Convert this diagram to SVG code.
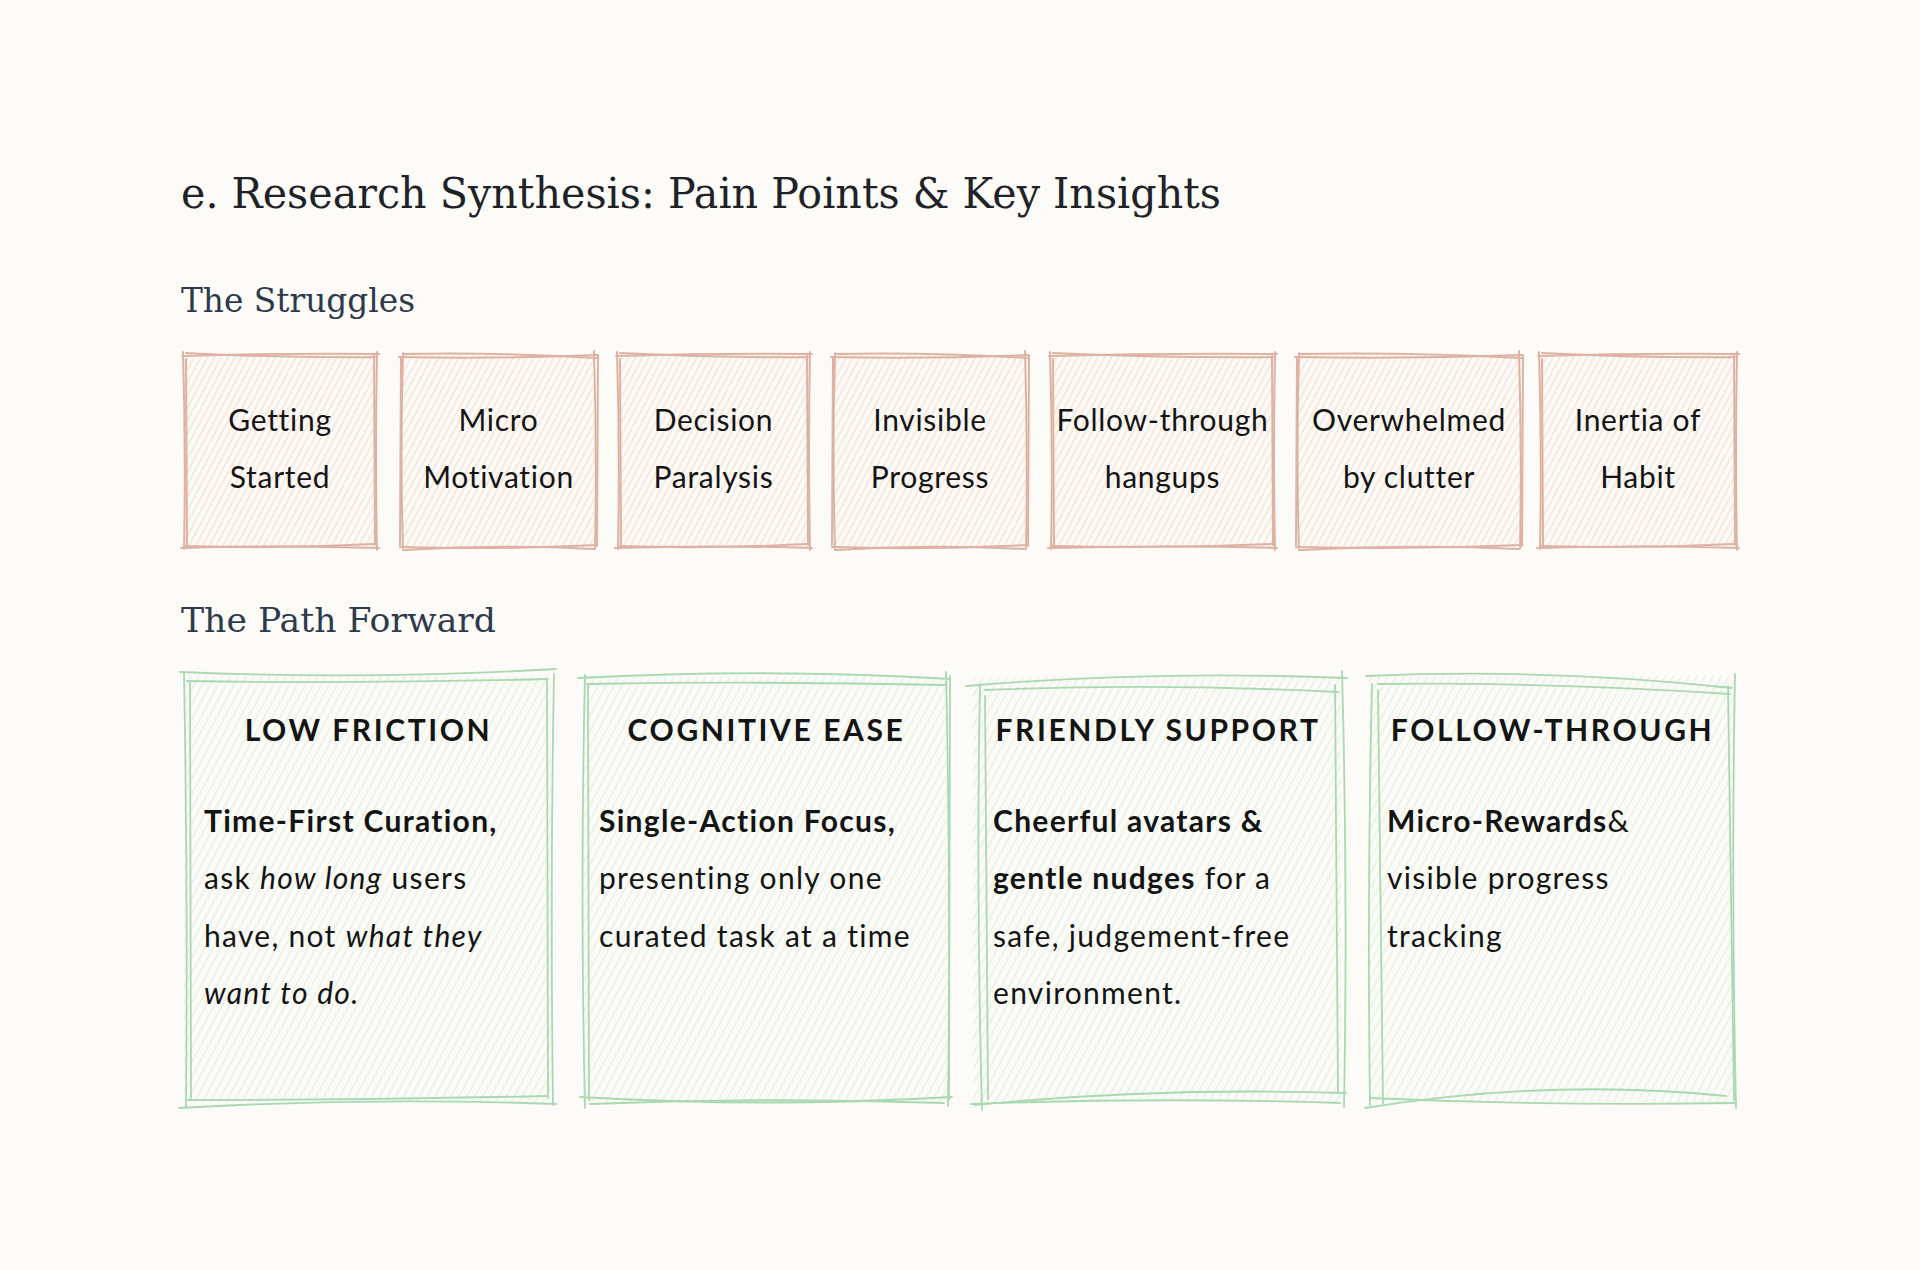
<svg xmlns="http://www.w3.org/2000/svg" width="1920" height="1270" viewBox="0 0 1920 1270">
<defs>
<pattern id="hPink" width="6" height="6" patternUnits="userSpaceOnUse" patternTransform="rotate(28)">
<line x1="3" y1="0" x2="3" y2="6" stroke="#efd6cc" stroke-width="1"/>
</pattern>
<pattern id="hGreen" width="7" height="7" patternUnits="userSpaceOnUse" patternTransform="rotate(28)">
<line x1="3" y1="0" x2="3" y2="7" stroke="#d9ecd9" stroke-width="1"/>
</pattern>
<style>
.bg{fill:#fcfbf7}
.title{font-family:"DejaVu Serif","Liberation Serif",serif;font-size:42px;fill:#1f2328}
.sub{font-family:"DejaVu Serif","Liberation Serif",serif;font-size:33px;fill:#2c3a4b}
.lbl{font-family:Lato,"Noto Sans",sans-serif;font-size:30px;fill:#141414;text-anchor:middle;letter-spacing:0.7px}
.hd{font-family:Lato,"Noto Sans",sans-serif;font-size:30px;font-weight:700;fill:#141414;text-anchor:middle;letter-spacing:2.6px}
.body{font-family:Lato,"Noto Sans",sans-serif;font-size:30px;fill:#141414;letter-spacing:1.3px}
.b{font-weight:700}
.i{font-style:italic}
.pinkFill{fill:url(#hPink)}
.greenFill{fill:url(#hGreen)}
.pinkLine{fill:none;stroke:#deb2a2;stroke-width:2;stroke-linecap:round}
.greenLine{fill:none;stroke:#a9d8b1;stroke-width:1.8;stroke-linecap:round}
</style>
</defs>
<rect class="bg" x="0" y="0" width="1920" height="1270"/>

<text class="title" x="181" y="208" textLength="1040" lengthAdjust="spacingAndGlyphs">e. Research Synthesis: Pain Points &amp; Key Insights</text>
<text class="sub" x="181" y="312" textLength="234" lengthAdjust="spacingAndGlyphs">The Struggles</text>
<text class="sub" x="181" y="632" textLength="315" lengthAdjust="spacingAndGlyphs">The Path Forward</text>

<g id="struggle-getting-started">
<rect class="pinkFill" x="184" y="355" width="192" height="192"/>
<path class="pinkLine" d="M182,356 Q280,353 379,354 M377,352 Q375,451 377,550 M379,548 Q280,545 181,548 M184,549 Q186,451 183,352"/>
<path class="pinkLine" d="M186,353 Q280,358 375,357 M374,356 L375,545 M373,544 Q280,549 185,546 M187,546 L186,359"/>
<text class="lbl" x="280" y="431">Getting</text>
<text class="lbl" x="280" y="488">Started</text>
</g>
<g id="struggle-micro-motivation">
<rect class="pinkFill" x="402" y="355" width="193" height="192"/>
<path class="pinkLine" d="M399,357 Q498,359 597,355 M594,351 Q597,451 595,549 M597,545 Q498,550 400,547 M403,550 Q400,451 403,353"/>
<path class="pinkLine" d="M403,354 Q498,352 596,358 M598,355 L597,546 M594,549 Q498,544 404,550 M400,545 L401,358"/>
<text class="lbl" x="498.5" y="431">Micro</text>
<text class="lbl" x="498.5" y="488">Motivation</text>
</g>
<g id="struggle-decision-paralysis">
<rect class="pinkFill" x="618" y="355" width="191" height="192"/>
<path class="pinkLine" d="M616,356 Q714,353 812,354 M810,352 Q808,451 810,550 M812,548 Q714,545 615,548 M618,549 Q620,451 617,352"/>
<path class="pinkLine" d="M620,353 Q714,358 808,357 M807,356 L808,545 M806,544 Q714,549 619,546 M621,546 L620,359"/>
<text class="lbl" x="713.5" y="431">Decision</text>
<text class="lbl" x="713.5" y="488">Paralysis</text>
</g>
<g id="struggle-invisible-progress">
<rect class="pinkFill" x="834" y="355" width="192" height="192"/>
<path class="pinkLine" d="M831,357 Q930,359 1028,355 M1025,351 Q1028,451 1026,549 M1028,545 Q930,550 832,547 M835,550 Q832,451 835,353"/>
<path class="pinkLine" d="M835,354 Q930,352 1027,358 M1029,355 L1028,546 M1025,549 Q930,544 836,550 M832,545 L833,358"/>
<text class="lbl" x="930" y="431">Invisible</text>
<text class="lbl" x="930" y="488">Progress</text>
</g>
<g id="struggle-follow-through">
<rect class="pinkFill" x="1051" y="355" width="223" height="192"/>
<path class="pinkLine" d="M1049,356 Q1162,353 1277,354 M1275,352 Q1273,451 1275,550 M1277,548 Q1162,545 1048,548 M1051,549 Q1053,451 1050,352"/>
<path class="pinkLine" d="M1053,353 Q1162,358 1273,357 M1272,356 L1273,545 M1271,544 Q1162,549 1052,546 M1054,546 L1053,359"/>
<text class="lbl" x="1162.5" y="431">Follow-through</text>
<text class="lbl" x="1162.5" y="488">hangups</text>
</g>
<g id="struggle-overwhelmed">
<rect class="pinkFill" x="1298" y="355" width="222" height="192"/>
<path class="pinkLine" d="M1295,357 Q1409,359 1522,355 M1519,351 Q1522,451 1520,549 M1522,545 Q1409,550 1296,547 M1299,550 Q1296,451 1299,353"/>
<path class="pinkLine" d="M1299,354 Q1409,352 1521,358 M1523,355 L1522,546 M1519,549 Q1409,544 1300,550 M1296,545 L1297,358"/>
<text class="lbl" x="1409" y="431">Overwhelmed</text>
<text class="lbl" x="1409" y="488">by clutter</text>
</g>
<g id="struggle-inertia">
<rect class="pinkFill" x="1540" y="355" width="196" height="192"/>
<path class="pinkLine" d="M1538,356 Q1638,353 1739,354 M1737,352 Q1735,451 1737,550 M1739,548 Q1638,545 1537,548 M1540,549 Q1542,451 1539,352"/>
<path class="pinkLine" d="M1542,353 Q1638,358 1735,357 M1734,356 L1735,545 M1733,544 Q1638,549 1541,546 M1543,546 L1542,359"/>
<text class="lbl" x="1638" y="431">Inertia of</text>
<text class="lbl" x="1638" y="488">Habit</text>
</g>

<g id="insight-low-friction">
<rect class="greenFill" x="184" y="676" width="367" height="426"/>
<path class="greenLine" d="M180,672 Q367,680 556,669 M554,674 Q550,889 553,1105 M556,1104 Q367,1097 179,1108 M186,1106 Q188,889 184,673"/>
<path class="greenLine" d="M187,681 Q367,684 548,679 M547,680 L548,1098 M546,1096 Q367,1100 188,1100 M191,1098 L190,682"/>
<text class="hd" x="368.5" y="741">LOW FRICTION</text>
<text class="body" x="204" y="832"><tspan class="b">Time-First Curation,</tspan></text>
<text class="body" x="204" y="889">ask <tspan class="i">how long</tspan> users</text>
<text class="body" x="204" y="947">have, not <tspan class="i">what they</tspan></text>
<text class="body" x="204" y="1004"><tspan class="i">want to do.</tspan></text>
</g>
<g id="insight-cognitive-ease">
<rect class="greenFill" x="583" y="676" width="365" height="426"/>
<path class="greenLine" d="M578,678 Q765,668 950,679 M946,672 Q951,889 948,1106 M952,1097 Q765,1108 580,1097 M585,1108 Q580,889 585,675"/>
<path class="greenLine" d="M587,684 Q765,681 945,685 M950,676 L949,1100 M944,1103 Q765,1097 590,1104 M589,1100 L588,684"/>
<text class="hd" x="766.5" y="741">COGNITIVE EASE</text>
<text class="body" x="599" y="832"><tspan class="b">Single-Action Focus,</tspan></text>
<text class="body" x="599" y="889">presenting only one</text>
<text class="body" x="599" y="947">curated task at a time</text>
</g>
<g id="insight-friendly-support">
<rect class="greenFill" x="973" y="676" width="368" height="426"/>
<path class="greenLine" d="M966,686 Q1157,670 1347,678 M1342,671 Q1348,889 1344,1107 M1346,1093 Q1157,1087 975,1105 M982,1110 Q976,889 980,684"/>
<path class="greenLine" d="M985,690 Q1157,683 1338,692 M1335,685 L1338,1093 M1340,1103 Q1157,1097 971,1104 M988,1099 L985,696"/>
<text class="hd" x="1158" y="741">FRIENDLY SUPPORT</text>
<text class="body" x="993" y="832"><tspan class="b">Cheerful avatars &amp;</tspan></text>
<text class="body" x="993" y="889"><tspan class="b">gentle nudges</tspan> for a</text>
<text class="body" x="993" y="947">safe, judgement-free</text>
<text class="body" x="993" y="1004">environment.</text>
</g>
<g id="insight-follow-through">
<rect class="greenFill" x="1369" y="676" width="365" height="426"/>
<path class="greenLine" d="M1366,676 Q1551,668 1732,688 M1735,674 Q1731,889 1736,1108 M1726,1096 Q1551,1078 1365,1108 M1370,1105 Q1367,889 1372,684"/>
<path class="greenLine" d="M1378,684 Q1551,682 1730,694 M1728,686 L1734,1100 M1736,1103 Q1551,1106 1370,1098 M1383,1104 L1378,690"/>
<text class="hd" x="1552.5" y="741">FOLLOW-THROUGH</text>
<text class="body" x="1387" y="832"><tspan class="b">Micro-Rewards</tspan>&amp;</text>
<text class="body" x="1387" y="889">visible progress</text>
<text class="body" x="1387" y="947">tracking</text>
</g>
<g id="connectors"/>
</svg>
